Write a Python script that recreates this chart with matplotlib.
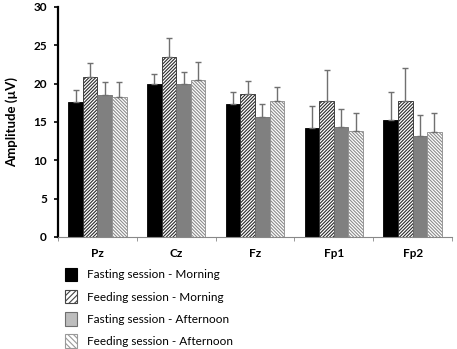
import numpy as np
import matplotlib
matplotlib.use('Agg')
import matplotlib.pyplot as plt
from matplotlib.patches import Patch

sites = ['Pz', 'Cz', 'Fz', 'Fp1', 'Fp2']
labels = ['Fasting session - Morning', 'Feeding session - Morning',
          'Fasting session - Afternoon', 'Feeding session - Afternoon']
fast_am = [17.6, 19.9, 17.3, 14.2, 15.2]
feed_am = [20.9, 23.5, 18.6, 17.7, 17.8]
fast_pm = [18.5, 19.9, 15.6, 14.3, 13.2]
feed_pm = [18.2, 20.5, 17.8, 13.8, 13.7]
fast_am_err = [1.6, 1.4, 1.6, 2.9, 3.7]
feed_am_err = [1.8, 2.4, 1.7, 4.1, 4.3]
fast_pm_err = [1.7, 1.6, 1.7, 2.4, 2.7]
feed_pm_err = [2.0, 2.3, 1.7, 2.4, 2.5]

plt.rcParams['font.family'] = ['Lato', 'DejaVu Sans']
plt.rcParams['hatch.linewidth'] = 0.8

fig = plt.figure(figsize=(4.57, 3.49), dpi=100)
ax = fig.add_axes([0.127, 0.321, 0.862, 0.659])

x = np.arange(len(sites))
w = 0.185
series = [fast_am, feed_am, fast_pm, feed_pm]
errs = [fast_am_err, feed_am_err, fast_pm_err, feed_pm_err]
faces = ['black', 'white', '#808080', 'white']
hatches = [None, '/' * 10, None, '\\' * 10]
edges = ['black', '#2a2a2a', '#6e6e6e', '#8c8c8c']
handles = []
for i in range(4):
    pos = x + (i - 1.5) * w
    ax.bar(pos, series[i], w, color=faces[i], edgecolor=edges[i],
           hatch=hatches[i], linewidth=0.6, zorder=2)
    ax.errorbar(pos, series[i], yerr=[np.zeros(5), errs[i]], fmt='none',
                ecolor='#707070', elinewidth=1.0, capsize=2.2, capthick=1.0, zorder=3)

leg_faces = ['black', 'white', '#bdbdbd', 'white']
leg_hatch = [None, '//////', None, '\\\\\\\\\\\\']
leg_edges = ['black', '#444444', '#6e6e6e', '#999999']
for i in range(4):
    handles.append(Patch(facecolor=leg_faces[i], edgecolor=leg_edges[i],
                         hatch=leg_hatch[i], linewidth=0.8))

ax.set_xlim(-0.5, 4.5)
ax.set_ylim(0, 30)
ax.set_yticks(range(0, 31, 5))
ax.set_xticks(x)
ax.set_xticklabels(sites, fontweight='bold', fontsize=8.5)
ax.set_xticks(np.arange(-0.5, 5.0, 1.0), minor=True)
ax.tick_params(axis='x', which='major', length=0, pad=8)
ax.tick_params(axis='x', which='minor', length=3, color='#888888')
ax.tick_params(axis='y', length=3, width=1.2, labelsize=8.5, pad=5)
for t in ax.get_yticklabels():
    t.set_fontweight('bold')
ax.set_ylabel('Amplitude (µV)', fontweight='bold', fontsize=9.5, labelpad=11)

for s in ['top', 'right']:
    ax.spines[s].set_visible(False)
ax.spines['left'].set_linewidth(1.6)
ax.spines['bottom'].set_color('#888888')
ax.spines['bottom'].set_linewidth(0.8)

fig.legend(handles, labels, loc='upper left', bbox_to_anchor=(0.129, 0.25),
           frameon=False, fontsize=8.5, handlelength=1.0, handleheight=1.4,
           handletextpad=0.9, labelspacing=0.72, borderpad=0)

fig.savefig('out.png', dpi=100)
